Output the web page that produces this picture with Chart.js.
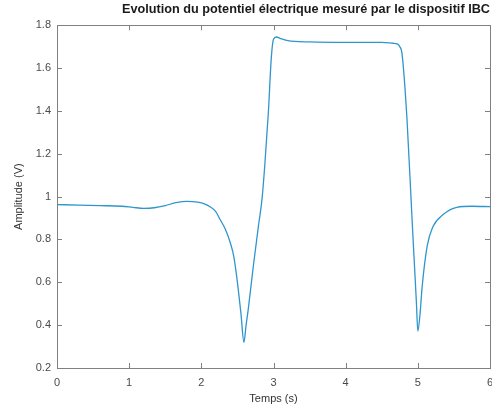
<!DOCTYPE html>
<html>
<head>
<meta charset="utf-8">
<script src="https://cdn.jsdelivr.net/npm/chart.js@4.4.0/dist/chart.umd.min.js"></script>
<style>
  body { margin: 0; background: #fff; }
  canvas { display: block; }
</style>
</head>
<body>
<canvas id="chart" width="492" height="414"></canvas>
<script>
// Values (time in s, amplitude in V)
const timeValues = [0, 0.3, 0.6, 0.9, 1.05, 1.2, 1.35, 1.5, 1.65, 1.8,
    1.95, 2.05, 2.12, 2.2, 2.26, 2.33, 2.40, 2.45, 2.50, 2.55,
    2.59, 2.62, 2.65, 2.72, 2.79, 2.84, 2.88, 2.93, 2.97, 3.0,
    3.04, 3.1, 3.2, 3.5, 4.0, 4.5, 4.65, 4.72, 4.75, 4.78,
    4.85, 4.92, 4.98, 5.0, 5.03, 5.06, 5.13, 5.21, 5.35, 5.54,
    5.75, 6.0];
const amplitudeValues = [0.963, 0.96, 0.958, 0.955, 0.95, 0.945, 0.948, 0.958, 0.972, 0.978,
    0.974, 0.965, 0.953, 0.93, 0.893, 0.85, 0.786, 0.72, 0.6, 0.45,
    0.32, 0.40, 0.474, 0.674, 0.86, 0.986, 1.15, 1.4, 1.65, 1.735,
    1.745, 1.738, 1.728, 1.722, 1.72, 1.72, 1.716, 1.712, 1.70, 1.67,
    1.36, 0.893, 0.507, 0.372, 0.45, 0.58, 0.77, 0.86, 0.916, 0.95,
    0.955, 0.953];
const xTicks = [0, 1, 2, 3, 4, 5, 6];
const yTicks = [0.2, 0.4, 0.6, 0.8, 1, 1.2, 1.4, 1.6, 1.8];

const titleText = 'Evolution du potentiel électrique mesuré par le dispositif IBC';
const axisColor = '#808080';

// Matlab-like box with inward ticks on all four sides
const boxPlugin = {
    id: 'boxPlugin',
    afterDatasetsDraw(chart) {
        const { ctx, chartArea: a, scales } = chart;
        const len = 5;
        ctx.save();
        ctx.strokeStyle = axisColor;
        ctx.lineWidth = 1;
        ctx.strokeRect(Math.round(a.left) + 0.5, Math.round(a.top) + 0.5,
            Math.round(a.right - a.left), Math.round(a.bottom - a.top));
        ctx.beginPath();
        xTicks.forEach(v => {
            const px = Math.round(scales.x.getPixelForValue(v)) + 0.5;
            ctx.moveTo(px, a.bottom); ctx.lineTo(px, a.bottom - len);
            ctx.moveTo(px, a.top); ctx.lineTo(px, a.top + len);
        });
        yTicks.forEach(v => {
            const py = Math.round(scales.y.getPixelForValue(v)) + 0.5;
            ctx.moveTo(a.left, py); ctx.lineTo(a.left + len, py);
            ctx.moveTo(a.right, py); ctx.lineTo(a.right - len, py);
        });
        ctx.stroke();
        ctx.restore();
    }
};

const ctx = document.getElementById('chart').getContext('2d');
new Chart(ctx, {
    type: 'line',
    data: {
        datasets: [{
            data: timeValues.map((t, i) => ({ x: t, y: amplitudeValues[i] })),
            borderColor: '#2e96cc',
            borderWidth: 1.3,
            pointRadius: 0,
            cubicInterpolationMode: 'monotone',
            fill: false
        }]
    },
    options: {
        responsive: false,
        animation: false,
        layout: { padding: { top: 0, right: 2, left: 0, bottom: 0 } },
        plugins: {
            legend: { display: false },
            tooltip: { enabled: false },
            title: {
                display: true,
                text: titleText,
                fullSize: false,
                align: 'end',
                color: '#1a1a1a',
                font: { family: 'Liberation Sans', size: 12.7, weight: 'bold' },
                padding: { top: 2, bottom: 8 }
            }
        },
        scales: {
            x: {
                type: 'linear',
                min: 0, max: 6,
                afterFit: s => { s.height = 46; s.paddingLeft = 0; s.paddingRight = 0; },
                grid: { display: false, tickLength: 0 },
                border: { display: false },
                ticks: {
                    stepSize: 1,
                    padding: 8,
                    color: '#4a4a4a',
                    font: { family: 'Liberation Sans', size: 11 }
                },
                title: {
                    display: true,
                    text: 'Temps (s)',
                    color: '#333',
                    font: { family: 'Liberation Sans', size: 11 },
                    padding: { top: 2, bottom: 8 }
                }
            },
            y: {
                type: 'linear',
                min: 0.2, max: 1.8,
                afterFit: s => { s.width = 57; },
                grid: { display: false, tickLength: 0 },
                border: { display: false },
                ticks: {
                    stepSize: 0.2,
                    padding: 6,
                    color: '#4a4a4a',
                    font: { family: 'Liberation Sans', size: 11 },
                    callback: v => String(+v.toFixed(1))
                },
                title: {
                    display: true,
                    text: 'Amplitude (V)',
                    color: '#333',
                    font: { family: 'Liberation Sans', size: 11 },
                    padding: { top: 12, bottom: 0 }
                }
            }
        }
    },
    plugins: [boxPlugin]
});
</script>
</body>
</html>
